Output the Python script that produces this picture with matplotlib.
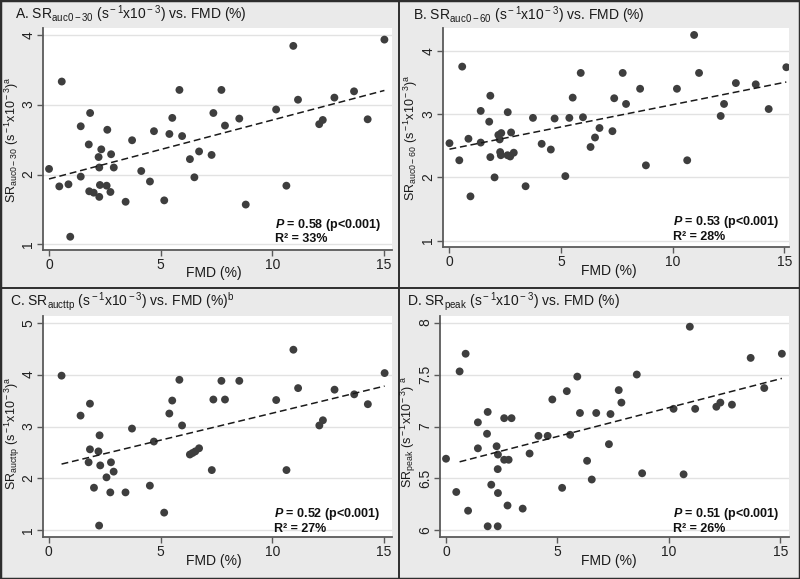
import numpy as np
import matplotlib
matplotlib.use('Agg')
import matplotlib.pyplot as plt
from matplotlib.lines import Line2D
from matplotlib.patches import Rectangle

plt.rcParams['font.family'] = ['Liberation Sans', 'DejaVu Sans']
plt.rcParams['mathtext.fontset'] = 'custom'
plt.rcParams['mathtext.rm'] = 'Liberation Sans'
plt.rcParams['mathtext.it'] = 'Liberation Sans:italic'
plt.rcParams['mathtext.bf'] = 'Liberation Sans:bold'
plt.rcParams['mathtext.bfit'] = 'Liberation Sans:italic:bold'

# ---- data ----
# A. SR auc0-30 vs FMD
fmd_a = [0.00, 0.57, 0.46, 0.87, 0.95, 1.42, 1.42, 1.84, 1.78, 1.80, 2.00, 2.22, 2.34,
         2.25, 2.28, 2.25, 2.61, 2.58, 2.78, 2.90, 2.75, 3.43, 3.72, 4.13, 4.52, 4.70,
         5.16, 5.39, 5.52, 5.84, 5.96, 6.31, 6.51, 6.72, 7.28, 7.36, 7.72, 7.88, 8.52,
         8.81, 10.17, 10.63, 10.94, 11.15, 12.10, 12.26, 12.78, 13.66, 14.27, 15.02]
sr_a = [2.08, 3.33, 1.83, 1.86, 1.11, 2.69, 1.97, 2.88, 2.43, 1.76, 1.74, 2.25, 2.36,
        2.10, 1.85, 1.68, 2.64, 1.84, 2.29, 2.10, 1.75, 1.61, 2.49, 2.05, 1.90, 2.62,
        1.63, 2.58, 2.81, 3.21, 2.55, 2.22, 1.96, 2.33, 2.28, 2.88, 3.21, 2.70, 2.80,
        1.57, 2.93, 1.84, 3.84, 3.07, 2.72, 2.78, 3.10, 3.19, 2.79, 3.93]

# B. SR auc0-60 vs FMD
fmd_b = [0.00, 0.57, 0.44, 0.85, 0.94, 1.40, 1.40, 1.83, 1.78, 1.83, 2.02, 2.19, 2.32,
         2.25, 2.27, 2.30, 2.61, 2.60, 2.76, 2.72, 2.88, 3.41, 3.74, 4.13, 4.54, 4.71,
         5.19, 5.37, 5.52, 5.88, 5.98, 6.32, 6.52, 6.72, 7.30, 7.38, 7.76, 7.91, 8.54,
         8.80, 10.19, 10.65, 10.96, 11.18, 12.15, 12.30, 12.83, 13.72, 14.30, 15.09]
sr_b = [2.54, 3.75, 2.27, 2.61, 1.70, 3.05, 2.55, 3.29, 2.88, 2.32, 2.00, 2.67, 2.70,
        2.60, 2.40, 2.35, 3.03, 2.35, 2.71, 2.33, 2.39, 1.86, 2.94, 2.53, 2.44, 2.93,
        2.02, 2.94, 3.26, 3.65, 2.95, 2.48, 2.63, 2.78, 2.73, 3.25, 3.65, 3.16, 3.40,
        2.19, 3.40, 2.27, 4.25, 3.65, 2.97, 3.16, 3.49, 3.47, 3.08, 3.74]

# C. SR aucttp vs FMD
fmd_c = [0.57, 1.42, 1.84, 1.84, 1.78, 2.02, 2.22, 2.27, 2.30, 2.25, 2.58, 2.78, 2.90,
         2.75, 3.43, 3.72, 4.52, 4.70, 5.16, 5.39, 5.52, 5.84, 5.96, 6.31, 6.43, 6.55,
         6.72, 7.29, 7.36, 7.72, 7.88, 8.52, 10.17, 10.63, 10.94, 11.15, 12.10, 12.26,
         12.78, 13.66, 14.27, 15.02]
sr_c = [3.98, 3.21, 3.44, 2.56, 2.31, 1.82, 2.52, 2.83, 2.25, 1.09, 2.02, 2.31, 2.13,
        1.73, 1.73, 2.96, 1.86, 2.71, 1.34, 3.25, 3.50, 3.90, 3.02, 2.46, 2.49, 2.52,
        2.58, 2.16, 3.52, 3.88, 3.52, 3.88, 3.51, 2.16, 4.48, 3.74, 3.02, 3.12, 3.71,
        3.62, 3.43, 4.03]

# D. SR peak vs FMD
fmd_d = [0.00, 0.61, 0.88, 0.46, 0.99, 1.43, 1.43, 1.87, 1.84, 1.87, 2.03, 2.27, 2.33,
         2.33, 2.32, 2.32, 2.61, 2.61, 2.81, 2.94, 2.76, 3.44, 3.75, 4.15, 4.56, 4.77,
         5.21, 5.42, 5.57, 5.89, 6.01, 6.33, 6.54, 6.74, 7.31, 7.38, 7.75, 7.87, 8.56,
         8.80, 10.21, 10.66, 10.94, 11.18, 12.13, 12.31, 12.83, 13.67, 14.28, 15.07]
sr_d = [6.69, 7.53, 7.70, 6.37, 6.19, 7.04, 6.79, 7.14, 6.93, 6.04, 6.44, 6.81, 6.73,
        6.36, 6.59, 6.04, 7.08, 6.68, 6.68, 7.08, 6.24, 6.21, 6.74, 6.91, 6.91, 7.26,
        6.41, 7.34, 6.92, 7.48, 7.13, 6.67, 6.49, 7.13, 6.83, 7.12, 7.35, 7.23, 7.50,
        6.55, 7.17, 6.54, 7.96, 7.17, 7.19, 7.23, 7.21, 7.66, 7.37, 7.70]

titles = [r'A. SR$_{\rm auc0-30}$ (s$^{\rm -1}$x10$^{\rm -3}$) vs. FMD (%)',
          r'B. SR$_{\rm auc0-60}$ (s$^{\rm -1}$x10$^{\rm -3}$) vs. FMD (%)',
          r'C. SR$_{\rm aucttp}$ (s$^{\rm -1}$x10$^{\rm -3}$) vs. FMD (%)$^{\rm b}$',
          r'D. SR$_{\rm peak}$ (s$^{\rm -1}$x10$^{\rm -3}$) vs. FMD (%)']
ylabels = [r'SR$_{\rm auc0-30}$ (s$^{\rm -1}$x10$^{\rm -3}$)$^{\rm a}$',
           r'SR$_{\rm auc0-60}$ (s$^{\rm -1}$x10$^{\rm -3}$)$^{\rm a}$',
           r'SR$_{\rm aucttp}$ (s$^{\rm -1}$x10$^{\rm -3}$)$^{\rm a}$',
           r'SR$_{\rm peak}$ (s$^{\rm -1}$x10$^{\rm -3}$) $^{\rm a}$']
rho = ['0.58', '0.53', '0.52', '0.51']
r2 = ['33%', '28%', '27%', '26%']
yticks = [[1, 2, 3, 4], [1, 2, 3, 4], [1, 2, 3, 4, 5], [6, 6.5, 7, 7.5, 8]]
yticklabels = [['1', '2', '3', '4'], ['1', '2', '3', '4'], ['1', '2', '3', '4', '5'],
               ['6', '6.5', '7', '7.5', '8']]
xticks = [0, 5, 10, 15]

# ---- layout (pixels in an 800x579 canvas) ----
W, H = 800, 579
panels = [
    # axes l, r, t, b | xlim | ylim | title xy | ylabel xy | xlabel xy | stats xy | fit start
    dict(ax=(43, 392, 28, 250), xlim=(-0.27, 15.36), ylim=(0.92, 4.096),
         title=(15, 14), ylab=(12, 140), xlab=(214, 273), stats=(275, 225), fit0=0.0),
    dict(ax=(443, 789, 28, 247), xlim=(-0.29, 15.21), ylim=(0.90, 4.36),
         title=(413, 15), ylab=(411, 138), xlab=(609, 271), stats=(673, 222), fit0=0.0),
    dict(ax=(43, 392, 316, 537), xlim=(-0.26, 15.35), ylim=(0.87, 5.13),
         title=(10, 302), ylab=(12, 433), xlab=(214, 561), stats=(274, 514), fit0=0.57),
    dict(ax=(440, 789, 316, 537), xlim=(-0.27, 15.39), ylim=(5.937, 8.063),
         title=(407, 302), ylab=(408, 432), xlab=(609, 561), stats=(673, 514), fit0=0.6),
]
data = [(fmd_a, sr_a), (fmd_b, sr_b), (fmd_c, sr_c), (fmd_d, sr_d)]

bg = '#eaeaea'
dot = '#3e3e3e'
axcol = '#5a5a5a'

fig = plt.figure(figsize=(W / 100, H / 100), dpi=100, facecolor=bg)


def fx(px):
    return px / W


def fy(py):
    return 1 - py / H


for i, p in enumerate(panels):
    l, r, t, b = p['ax']
    ax = fig.add_axes([fx(l), fy(b), (r - l) / W, (b - t) / H])
    ax.set_facecolor('white')
    x = np.array(data[i][0])
    y = np.array(data[i][1])

    ax.scatter(x, y, s=32, color=dot, edgecolors='none', zorder=3)

    # linear fit
    m = x >= p['fit0']
    k, c0 = np.polyfit(x[m], y[m], 1)
    xx = np.linspace(x[m].min(), x.max(), 50)
    ax.plot(xx, k * xx + c0, color='#1a1a1a', lw=1.1, ls=(0, (4.5, 2.5)), zorder=4)

    ax.set_xlim(*p['xlim'])
    ax.set_ylim(*p['ylim'])
    ax.set_xticks(xticks)
    ax.set_yticks(yticks[i])
    ax.set_yticklabels(yticklabels[i])
    ax.grid(axis='y', color='#e2e2e2', lw=1.0, zorder=0)
    ax.set_axisbelow(True)
    for s in ['top', 'right']:
        ax.spines[s].set_visible(False)
    for s in ['left', 'bottom']:
        ax.spines[s].set_color(axcol)
        ax.spines[s].set_linewidth(1.3)
    ax.tick_params(axis='both', colors=axcol, length=4, width=1.0, labelcolor='#222222',
                   labelsize=10, pad=2)
    ax.tick_params(axis='y', labelrotation=90, pad=1.5)
    for lab in ax.get_yticklabels():
        lab.set_va('center')

    fig.text(fx(p['title'][0]), fy(p['title'][1]), titles[i], fontsize=10,
             ha='left', va='center', color='#1a1a1a')
    fig.text(fx(p['ylab'][0]), fy(p['ylab'][1]), ylabels[i], fontsize=9, rotation=90,
             ha='center', va='center', color='#1a1a1a')
    fig.text(fx(p['xlab'][0]), fy(p['xlab'][1]), 'FMD (%)', fontsize=10,
             ha='center', va='center', color='#1a1a1a')
    sx, sy = p['stats']
    fig.text(fx(sx), fy(sy), r'$\mathbfit{P}$ = ' + rho[i] + ' (p<0.001)', fontsize=9,
             fontweight='bold', ha='left', va='center', color='#111111')
    fig.text(fx(sx), fy(sy + 14.5), 'R\u00b2 = ' + r2[i], fontsize=9,
             fontweight='bold', ha='left', va='center', color='#111111')

# panel frames
line_kw = dict(color='#2e2e2e', lw=1.4, transform=fig.transFigure)
fig.add_artist(Line2D([fx(399), fx(399)], [0, 1], **line_kw))
fig.add_artist(Line2D([0, 1], [fy(288), fy(288)], **line_kw))
fig.add_artist(Rectangle((0, 0), 1, 1, fill=False, ec='#2e2e2e', lw=2.5,
                         transform=fig.transFigure))

fig.savefig('out.png', dpi=100, facecolor=bg)
